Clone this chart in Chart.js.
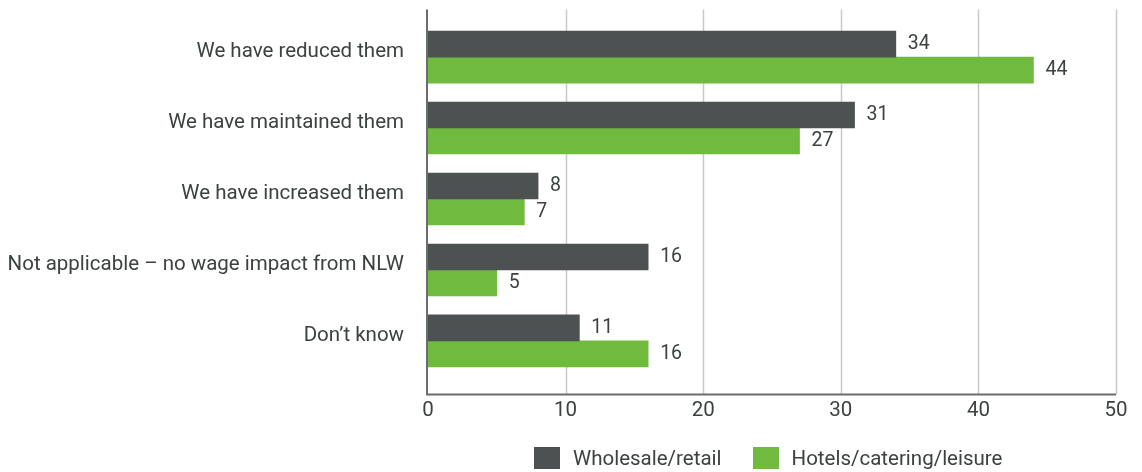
<!DOCTYPE html>
<html>
<head>
<meta charset="utf-8">
<script src="https://cdn.jsdelivr.net/npm/chart.js@4/dist/chart.umd.min.js"></script>
<style>
    html, body { margin: 0; padding: 0; background: #fff; }
    #wrap { width: 1142px; height: 472px; position: relative; }
    #legend {
        position: absolute;
        left: 534px;
        top: 447px;
        display: flex;
        align-items: center;
        font-family: Roboto, "Open Sans", sans-serif;
        font-size: 20.5px;
        color: #3c4142;
        line-height: 22px;
    }
    #legend .item { display: flex; align-items: center; margin-right: 31px; }
    #legend .swatch { width: 26px; height: 22px; margin-right: 13px; }
</style>
</head>
<body>
<div id="wrap">
    <canvas id="wageChart"></canvas>
    <div id="legend"></div>
</div>
<script>
const categories = [
    'We have reduced them',
    'We have maintained them',
    'We have increased them',
    'Not applicable \u2013 no wage impact from NLW',
    'Don\u2019t know',
];
const wholesaleRetail = [34, 31, 8, 16, 11];
const hotelsCatering = [44, 27, 7, 5, 16];
const xTicks = [0, 10, 20, 30, 40, 50];

const darkGrey = '#4d5152';
const green = '#6fba3f';
const textColour = '#3c4142';
const fontFamily = 'Roboto, "Open Sans", sans-serif';
const fontSize = 20.5;

// grid lines and axis lines run a little past the category bands
const frameLines = {
    id: 'frameLines',
    beforeDatasetsDraw(chart) {
        const { ctx, chartArea, scales } = chart;
        const top = chartArea.top - 12;
        const bottom = chartArea.bottom + 18;
        ctx.save();
        ctx.strokeStyle = '#c9c9c9';
        ctx.lineWidth = 1.5;
        xTicks.slice(1).forEach((t) => {
            const x = Math.round(scales.x.getPixelForValue(t)) + 0.5;
            ctx.beginPath();
            ctx.moveTo(x, top);
            ctx.lineTo(x, bottom);
            ctx.stroke();
        });
        ctx.strokeStyle = '#6b6e6f';
        ctx.lineWidth = 2;
        const x0 = scales.x.getPixelForValue(0) - 1;
        ctx.beginPath();
        ctx.moveTo(x0, top);
        ctx.lineTo(x0, bottom);
        ctx.lineTo(scales.x.getPixelForValue(50), bottom);
        ctx.stroke();
        ctx.restore();
    },
};

// value labels just past the end of each bar
const valueLabels = {
    id: 'valueLabels',
    afterDatasetsDraw(chart) {
        const { ctx } = chart;
        ctx.save();
        ctx.font = `${fontSize - 1}px ${fontFamily}`;
        ctx.fillStyle = textColour;
        ctx.textBaseline = 'middle';
        chart.data.datasets.forEach((ds, i) => {
            chart.getDatasetMeta(i).data.forEach((bar, j) => {
                ctx.fillText(String(ds.data[j]), bar.x + 12, bar.y);
            });
        });
        ctx.restore();
    },
};

function buildLegend(chart) {
    const legend = document.getElementById('legend');
    chart.data.datasets.forEach((ds) => {
        const item = document.createElement('div');
        item.className = 'item';
        const swatch = document.createElement('span');
        swatch.className = 'swatch';
        swatch.style.background = ds.backgroundColor;
        const label = document.createElement('span');
        label.textContent = ds.label;
        item.append(swatch, label);
        legend.append(item);
    });
}

const ctx = document.querySelector('#wageChart').getContext('2d');
const chart = new Chart(ctx, {
    type: 'bar',
    data: {
        labels: categories,
        datasets: [
            { label: 'Wholesale/retail', data: wholesaleRetail, backgroundColor: darkGrey },
            { label: 'Hotels/catering/leisure', data: hotelsCatering, backgroundColor: green },
        ],
    },
    options: {
        indexAxis: 'y',
        responsive: true,
        maintainAspectRatio: false,
        animation: false,
        layout: {
            padding: { top: 21.6, right: 26, left: 0, bottom: 55.6 },
        },
        datasets: {
            bar: {
                barThickness: 26,
                categoryPercentage: 0.79,
                barPercentage: 1,
            },
        },
        scales: {
            x: {
                min: 0,
                max: 50,
                afterBuildTicks(scale) {
                    scale.ticks = xTicks.map((v) => ({ value: v }));
                },
                grid: { display: false, drawTicks: false },
                border: { display: false },
                ticks: {
                    color: textColour,
                    padding: 22,
                    autoSkip: false,
                    maxRotation: 0,
                    font: { family: fontFamily, size: fontSize },
                },
                afterFit(scale) {
                    scale.height = 40;
                    scale.paddingLeft = 0;
                    scale.paddingRight = 0;
                },
            },
            y: {
                grid: { display: false, drawTicks: false },
                border: { display: false },
                ticks: {
                    color: textColour,
                    padding: 24,
                    labelOffset: -5,
                    font: { family: fontFamily, size: fontSize },
                },
                afterFit(scale) {
                    scale.width = 428;
                    scale.paddingTop = 0;
                    scale.paddingBottom = 0;
                },
            },
        },
        plugins: {
            legend: { display: false },
            tooltip: { enabled: false },
        },
    },
    plugins: [frameLines, valueLabels],
});
buildLegend(chart);
</script>
</body>
</html>
